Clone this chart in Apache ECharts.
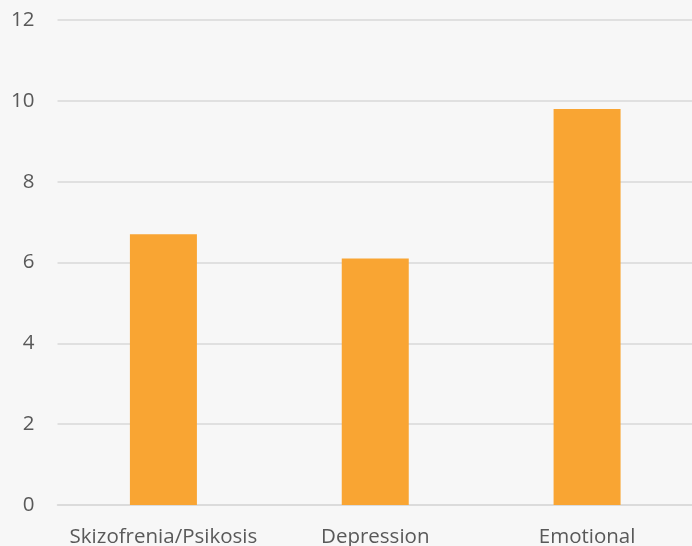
<!DOCTYPE html>
<html>
<head>
<meta charset="utf-8">
<script src="https://cdn.jsdelivr.net/npm/echarts@6/dist/echarts.min.js"></script>
<style>
  html, body { margin: 0; padding: 0; background: #f7f7f7; }
  #chart { width: 692px; height: 546px; }
</style>
</head>
<body>
<div id="chart"></div>
<script>
// Categories and values for the bar chart
const categories = ['Skizofrenia/Psikosis', 'Depression', 'Emotional'];
const values = [6.7, 6.1, 9.8];
const yTicks = { min: 0, max: 12, interval: 2 };

const chart = echarts.init(document.getElementById('chart'), null, { renderer: 'canvas' });
chart.setOption({
  backgroundColor: '#f7f7f7',
  animation: false,
  grid: {
    left: 57.5, right: -1, top: 20, bottom: 41,
    containLabel: false,
    outerBoundsMode: 'none'
  },
  xAxis: {
    type: 'category',
    data: categories,
    axisLine: { show: true, lineStyle: { color: '#d9d9d9', width: 1.5 } },
    axisTick: { show: false },
    axisLabel: {
      interval: 0,
      color: '#595959',
      fontFamily: 'Open Sans',
      fontSize: 20.5,
      margin: 22
    }
  },
  yAxis: {
    type: 'value',
    min: yTicks.min,
    max: yTicks.max,
    interval: yTicks.interval,
    axisLine: { show: false },
    axisTick: { show: false },
    splitLine: { lineStyle: { color: '#d9d9d9', width: 1.5 } },
    axisLabel: {
      color: '#595959',
      fontFamily: 'Open Sans',
      fontSize: 20.5,
      margin: 23
    }
  },
  series: [{
    type: 'bar',
    data: values,
    barWidth: 67,
    itemStyle: { color: '#f9a533' }
  }]
});
</script>
</body>
</html>
